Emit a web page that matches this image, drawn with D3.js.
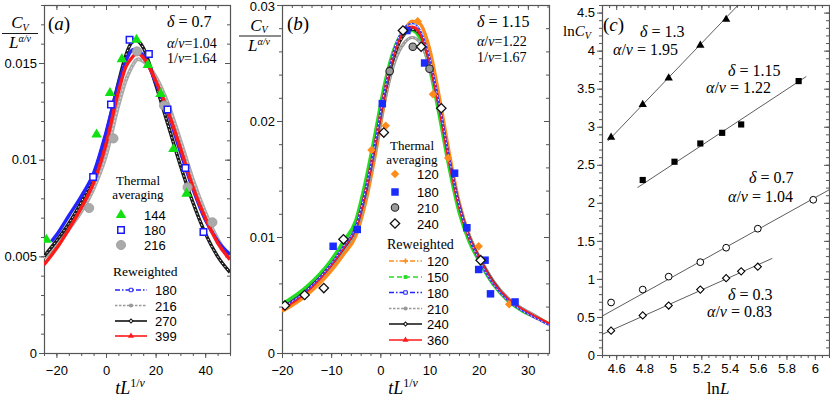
<!DOCTYPE html>
<html>
<head>
<meta charset="utf-8">
<script src="https://cdn.jsdelivr.net/npm/d3@7"></script>
<style>
  body { margin: 0; background: #fff; }
  .tick text { font-family: "Liberation Sans", Arial, sans-serif; font-size: 13px; fill: #000; }
  .tick line { stroke: #555; }
</style>
</head>
<body>
<div id="chart"></div>
<script>
// ---------- panel (a): delta = 0.7 ----------
// thermal averaging points [tL^(1/nu), C_V / L^(alpha/nu)]
const aTherm144 = [[-24, 0.00586], [-3.8, 0.0113], [1.6, 0.01345], [6.4, 0.0152], [12.3, 0.0162],
                   [16.9, 0.0149], [22, 0.0134], [27.2, 0.01055], [32.5, 0.00824]];
const aTherm180 = [[-5.2, 0.0091], [2.0, 0.01285], [9.5, 0.0162], [17.3, 0.01547], [24.8, 0.01259],
                   [32, 0.00957], [39.3, 0.00626]];
const aTherm216 = [[-6.8, 0.0075], [3.0, 0.0111], [12.5, 0.0156], [23.4, 0.0128], [32.9, 0.00857], [42.9, 0.00676]];

// reweighted curves
const aRw180 = [[-22, 0.00577], [-20, 0.0061], [-15, 0.0071], [-10, 0.0081], [-5, 0.0093], [0, 0.0114], [5, 0.0139],
                [8, 0.0151], [10, 0.0156], [11, 0.0157], [15, 0.0154], [20, 0.0140], [25, 0.0124], [30, 0.0104],
                [35, 0.0085], [40, 0.0069], [45, 0.0058], [50, 0.0051]];
const aRw216 = [[-25, 0.0049], [-20, 0.0056], [-15, 0.0064], [-10, 0.0073], [-5, 0.0085], [0, 0.0102], [5, 0.0128],
                [8, 0.0141], [10, 0.0147], [13, 0.0152], [15, 0.0151], [20, 0.0143], [25, 0.0129], [30, 0.0110],
                [35, 0.0090], [40, 0.0073], [45, 0.0059], [50, 0.0049]];
const aRw270 = [[-25, 0.0050], [-20, 0.0058], [-15, 0.0067], [-10, 0.0078], [-5, 0.0092], [0, 0.0113], [5, 0.0140],
                [8, 0.0154], [10, 0.0160], [11.5, 0.0162], [15, 0.0158], [20, 0.0139], [25, 0.0118], [30, 0.0097],
                [35, 0.0078], [40, 0.0062], [45, 0.0050], [50, 0.00417]];
const aRw399 = [[-25, 0.00457], [-20, 0.0054], [-15, 0.0064], [-10, 0.0075], [-5, 0.0088], [0, 0.0108], [5, 0.0135],
                [8, 0.0148], [10, 0.0152], [12.5, 0.0155], [15, 0.0153], [20, 0.0141], [25, 0.0125], [30, 0.0106],
                [35, 0.0086], [40, 0.0070], [45, 0.0057], [50, 0.00483]];

// ---------- panel (b): delta = 1.15 ----------
const bTherm120 = [[-1.8, 0.0175], [1.1, 0.0196], [7.6, 0.0286], [10.7, 0.0223], [13.8, 0.0168], [20, 0.0092], [26.2, 0.0042]];
const bTherm180 = [[-9.6, 0.0092], [-4.7, 0.01065], [0.4, 0.0215], [5.4, 0.0278], [9, 0.025], [15.1, 0.0155],
                   [17.6, 0.0108], [20, 0.0072], [21.3, 0.008], [22.4, 0.0051], [27.4, 0.0044]];
const bTherm210 = [[1.9, 0.0243], [6.6, 0.0264], [10, 0.0245]];
const bTherm240 = [[-19.4, 0.0041], [-15.4, 0.005], [-11.5, 0.0056], [-7.5, 0.0098], [0.7, 0.019], [4.6, 0.0278],
                   [8.3, 0.0264], [12.4, 0.0211], [20.4, 0.008]];

const bGrid = [-20, -15, -10, -7.5, -5, -3, -1, 1, 3, 5, 6.5, 8, 10, 12, 14, 16, 18, 20, 23, 26, 29, 32, 34.3];
const bRw120 = [0.0036, 0.0050, 0.0071, 0.0085, 0.0101, 0.0130, 0.0172, 0.0220, 0.0258, 0.0279, 0.0286, 0.0284,
                0.0262, 0.0220, 0.0172, 0.0130, 0.0102, 0.0083, 0.0061, 0.0046, 0.0037, 0.0030, 0.0025];
const bRw150 = [0.0042, 0.0057, 0.0080, 0.0096, 0.0114, 0.0148, 0.0190, 0.0234, 0.0264, 0.0277, 0.0278, 0.0272,
                0.0246, 0.0205, 0.0160, 0.0122, 0.0097, 0.0080, 0.0059, 0.0045, 0.0036, 0.0030, 0.0025];
const bRw180 = [0.0039, 0.0054, 0.0077, 0.0092, 0.0109, 0.0141, 0.0183, 0.0229, 0.0264, 0.0281, 0.0284, 0.0279,
                0.0255, 0.0214, 0.0168, 0.0128, 0.0100, 0.0081, 0.0059, 0.0045, 0.0036, 0.0029, 0.0024];
const bRw210 = [0.0039, 0.0053, 0.0075, 0.0089, 0.0105, 0.0135, 0.0176, 0.0220, 0.0252, 0.0268, 0.0272, 0.0268,
                0.0248, 0.0211, 0.0167, 0.0129, 0.0102, 0.0084, 0.0062, 0.0047, 0.0038, 0.0031, 0.0025];
const bRw240 = [0.0039, 0.0054, 0.0076, 0.0090, 0.0107, 0.0138, 0.0180, 0.0225, 0.0258, 0.0275, 0.0279, 0.0275,
                0.0251, 0.0212, 0.0167, 0.0128, 0.0101, 0.0083, 0.0061, 0.0046, 0.0037, 0.0030, 0.0025];
const bRw360 = [0.0038, 0.0053, 0.0076, 0.0091, 0.0108, 0.0140, 0.0182, 0.0228, 0.0262, 0.0278, 0.0281, 0.0276,
                0.0252, 0.0212, 0.0166, 0.0127, 0.0100, 0.0082, 0.0060, 0.0046, 0.0037, 0.0030, 0.0025];

// ---------- panel (c): ln C_V vs ln L ----------
const cTri13  = [[4.564, 2.86], [4.787, 3.29], [4.970, 3.64], [5.193, 4.07], [5.375, 4.41]];
const cSq115  = [[4.787, 2.30], [5.011, 2.54], [5.193, 2.78], [5.347, 2.92], [5.481, 3.03], [5.886, 3.60]];
const cCirc07 = [[4.564, 0.69], [4.787, 0.86], [4.970, 1.03], [5.193, 1.22], [5.375, 1.41], [5.598, 1.66], [5.989, 2.04]];
const cDia03  = [[4.564, 0.32], [4.787, 0.52], [4.970, 0.65], [5.193, 0.86], [5.375, 1.01], [5.481, 1.10], [5.598, 1.16]];
const cFit13  = [[4.54, 2.81], [5.46, 4.60]];
const cFit115 = [[4.75, 2.20], [5.94, 3.66]];
const cFit07  = [[4.50, 0.51], [6.10, 2.17]];
const cFit03  = [[4.50, 0.27], [5.70, 1.27]];

// tick labels
const aXTicks = [-20, 0, 20, 40];
const aYTicks = [0, 0.005, 0.01, 0.015];
const bXTicks = [-20, -10, 0, 10, 20, 30];
const bYTicks = [0, 0.01, 0.02, 0.03];
const cXTicks = [4.6, 4.8, 5, 5.2, 5.4, 5.6, 5.8, 6];
const cYTicks = [0, 0.5, 1, 1.5, 2, 2.5, 3, 3.5, 4, 4.5];

const svg = d3.select("#chart").append("svg")
    .attr("width", 830).attr("height", 398);

const serif = '"Liberation Serif", "DejaVu Serif", serif';
const sans = '"Liberation Sans", Arial, sans-serif';

// draws the boxed frame with ticks on all four sides
function makePanel(id, box, xDom, yDom, o) {
    const x = d3.scaleLinear().domain(xDom).range([box.left, box.right]);
    const y = d3.scaleLinear().domain(yDom).range([box.bottom, box.top]);
    const g = svg.append("g");

    g.append("clipPath").attr("id", id).append("rect")
        .attr("x", box.left).attr("y", box.top)
        .attr("width", box.right - box.left).attr("height", box.bottom - box.top);

    const minorX = d3.range(xDom[0], xDom[1] + 1e-9, o.xMinor).map(v => +v.toFixed(4));
    const minorY = d3.range(yDom[0], yDom[1] + 1e-9, o.yMinor).map(v => +v.toFixed(5));

    const axes = [
        [d3.axisBottom(x).tickValues(minorX).tickSize(3).tickFormat(""), `translate(0,${box.bottom})`],
        [d3.axisBottom(x).tickValues(o.xTicks).tickSize(5).tickPadding(o.xPad).tickFormat(o.xFmt), `translate(0,${box.bottom})`],
        [d3.axisBottom(x).tickValues(minorX).tickSize(3).tickFormat(""), `translate(0,${box.top})`],
        [d3.axisBottom(x).tickValues(o.xTicks).tickSize(5).tickFormat(""), `translate(0,${box.top})`],
        [d3.axisLeft(y).tickValues(minorY).tickSize(3).tickFormat(""), `translate(${box.left},0)`],
        [d3.axisLeft(y).tickValues(o.yTicks).tickSize(5).tickPadding(2).tickFormat(o.yFmt), `translate(${box.left},0)`, "yLabels"],
        [d3.axisLeft(y).tickValues(minorY).tickSize(3).tickFormat(""), `translate(${box.right},0)`],
        [d3.axisLeft(y).tickValues(o.yTicks).tickSize(5).tickFormat(""), `translate(${box.right},0)`]
    ];
    axes.forEach(([ax, tr, cls]) => {
        const a = g.append("g").attr("transform", tr).call(ax);
        a.select(".domain").remove();
        if (cls) a.attr("class", cls);
    });

    // keep the top label of the y axis inside the picture
    g.select(".yLabels").selectAll(".tick text").filter(d => d === yDom[1]).attr("dy", "0.4em");

    g.append("rect")
        .attr("x", box.left + 0.5).attr("y", box.top + 0.5)
        .attr("width", box.right - box.left).attr("height", box.bottom - box.top)
        .attr("fill", "none").attr("stroke", "#555").attr("stroke-width", 1.2);

    const plot = g.append("g").attr("clip-path", `url(#${id})`);
    return { g, plot, x, y };
}

function drawCurve(p, data, color, width, bead) {
    const line = d3.line().x(d => p.x(d[0])).y(d => p.y(d[1])).curve(d3.curveMonotoneX);
    p.plot.append("path").attr("d", line(data))
        .attr("fill", "none").attr("stroke", color).attr("stroke-width", width);
    if (bead) {
        p.plot.append("path").attr("d", line(data))
            .attr("fill", "none").attr("stroke", bead).attr("stroke-width", 1)
            .attr("stroke-dasharray", "1.5,2.5");
    }
}

function sym(type, size) {
    return d3.symbol().type(type).size(size)();
}

function drawMarkers(p, data, m) {
    p.plot.selectAll(null).data(data).enter().append("path")
        .attr("d", sym(m.type, m.size))
        .attr("transform", d => `translate(${p.x(d[0])},${p.y(d[1])})` + (m.rot ? " rotate(45)" : ""))
        .attr("fill", m.fill).attr("stroke", m.stroke || "none").attr("stroke-width", m.sw || 0);
}

function addText(parent, x, y, parts, size, anchor) {
    const t = parent.append("text").attr("x", x).attr("y", y)
        .attr("font-family", serif).attr("font-size", size)
        .attr("text-anchor", anchor || "start");
    parts.forEach(pt => {
        const s = t.append("tspan").text(pt.t);
        if (pt.i) s.attr("font-style", "italic");
        if (pt.fs) s.attr("font-size", pt.fs);
        if (pt.dy) s.attr("dy", pt.dy);
    });
    return t;
}

// y label: C_V / L^(alpha/nu)
function fracLabel(cx, x0, x1, off) {
    addText(svg, cx, 28 + off, [{ t: "C", i: 1 }, { t: "V", i: 1, fs: 10, dy: 2.5 }], 17, "middle");
    svg.append("line").attr("x1", x0).attr("x2", x1).attr("y1", 33.5 + off).attr("y2", 33.5 + off)
        .attr("stroke", "#000").attr("stroke-width", 0.9);
    addText(svg, cx, 48 + off, [{ t: "L", i: 1 }, { t: "α/ν", i: 1, fs: 10, dy: -6 }], 17, "middle");
}

function xTitle(cx) {
    addText(svg, cx, 394, [{ t: "tL", i: 1 }, { t: "1/", fs: 12, dy: -7 }, { t: "ν", i: 1, fs: 12 }], 18, "middle");
}

function thermLegend(cx, y0, y1) {
    addText(svg, cx, y0, [{ t: "Thermal" }], 13, "middle");
    addText(svg, cx, y1, [{ t: "averaging" }], 13, "middle");
}
function legendMarker(x, y, m, label, lx) {
    svg.append("path").attr("d", sym(m.type, m.size))
        .attr("transform", `translate(${x},${y})` + (m.rot ? " rotate(45)" : ""))
        .attr("fill", m.fill).attr("stroke", m.stroke || "none").attr("stroke-width", m.sw || 0);
    svg.append("text").attr("x", lx).attr("y", y + 5).attr("font-family", sans)
        .attr("font-size", 13).text(label);
}
function legendLine(x0, x1, y, st, label, lx) {
    svg.append("line").attr("x1", x0).attr("x2", x1).attr("y1", y).attr("y2", y)
        .attr("stroke", st.color).attr("stroke-width", 1.6)
        .attr("stroke-dasharray", st.dash || null);
    const m = st.marker;
    svg.append("path").attr("d", sym(m.type, m.size))
        .attr("transform", `translate(${(x0 + x1) / 2},${y})` + (m.rot ? " rotate(45)" : ""))
        .attr("fill", m.fill).attr("stroke", m.stroke || "none").attr("stroke-width", m.sw || 0);
    svg.append("text").attr("x", lx).attr("y", y + 5).attr("font-family", sans)
        .attr("font-size", 13).text(label);
}

// line styles for the "Reweighted" legends
const stBlue = { color: "#2323ff", dash: "5,2,1.5,2", marker: { type: d3.symbolSquare, size: 12, fill: "#fff", stroke: "#2323ff", sw: 1 } };
const stGray = { color: "#999", dash: "2.5,1.5", marker: { type: d3.symbolCircle, size: 14, fill: "#999" } };
const stBlack = { color: "#111", marker: { type: d3.symbolSquare, size: 8, fill: "#fff", stroke: "#111", sw: 1, rot: 1 } };
const stRed = { color: "#ff1a1a", marker: { type: d3.symbolTriangle, size: 16, fill: "#ff1a1a" } };
const stOrange = { color: "#ff8c1a", dash: "5,2,1.5,2", marker: { type: d3.symbolCross, size: 14, fill: "#ff8c1a" } };
const stGreen = { color: "#22dd22", dash: "5,3", marker: { type: d3.symbolSquare, size: 14, fill: "#22dd22" } };

// ================= panel (a) =================
const pa = makePanel("clipA", { left: 44, right: 230, top: 5, bottom: 353 }, [-25, 50], [0, 0.018], {
    xTicks: aXTicks, yTicks: aYTicks, xMinor: 5, yMinor: 0.001, xPad: 8,
    xFmt: d3.format("d"), yFmt: d => d === 0 ? "0" : d3.format("~g")(d)
});
drawCurve(pa, aRw216, "#a9a9a9", 3.8, "#e6e6e6");
drawCurve(pa, aRw270, "#1a1a1a", 3.4, "#ffffff");
drawCurve(pa, aRw180, "#2323ff", 3.4);
drawCurve(pa, aRw399, "#ff1a1a", 3.4);

const mTri = { type: d3.symbolTriangle, size: 48, fill: "#11e011" };
const mSqO = { type: d3.symbolSquare, size: 42, fill: "#fff", stroke: "#1a1aff", sw: 1.5 };
const mCirG = { type: d3.symbolCircle, size: 66, fill: "#aaaaaa", stroke: "#999", sw: 0.8 };
drawMarkers(pa, aTherm216, mCirG);
drawMarkers(pa, aTherm180, mSqO);
drawMarkers(pa, aTherm144, mTri);

fracLabel(20, 2, 38, 0);
xTitle(130);
addText(svg, 48, 30, [{ t: "(" }, { t: "a", i: 1 }, { t: ")" }], 19);
addText(svg, 167, 27, [{ t: "δ", i: 1 }, { t: " = 0.7" }], 16);
addText(svg, 167, 48, [{ t: "α", i: 1 }, { t: "/" }, { t: "ν", i: 1 }, { t: "=1.04" }], 14);
addText(svg, 167, 63, [{ t: "1/" }, { t: "ν", i: 1 }, { t: "=1.64" }], 14);

thermLegend(138, 185, 199);
legendMarker(121, 215, mTri, "144", 144);
legendMarker(121, 230, mSqO, "180", 144);
legendMarker(121, 245, mCirG, "216", 144);
addText(svg, 113, 276, [{ t: "Reweighted" }], 13.5);
legendLine(115, 147, 290, stBlue, "180", 155);
legendLine(115, 147, 305.5, stGray, "216", 155);
legendLine(115, 147, 321, stBlack, "270", 155);
legendLine(115, 147, 336, stRed, "399", 155);

// ================= panel (b) =================
const pb = makePanel("clipB", { left: 282, right: 549, top: 5, bottom: 353 }, [-20, 34.3], [0, 0.03], {
    xTicks: bXTicks, yTicks: bYTicks, xMinor: 2, yMinor: 0.002, xPad: 8,
    xFmt: d3.format("d"), yFmt: d => d === 0 ? "0" : d3.format("~g")(d)
});
const zipB = vals => bGrid.map((g, i) => [g, vals[i]]);
drawCurve(pb, zipB(bRw150), "#22dd22", 3.6);
drawCurve(pb, zipB(bRw120), "#ff8c1a", 3.6);
drawCurve(pb, zipB(bRw210), "#9a9a9a", 3.2, "#e6e6e6");
drawCurve(pb, zipB(bRw240), "#222", 2.6, "#ffffff");
drawCurve(pb, zipB(bRw360), "#ff1a1a", 3.0);
drawCurve(pb, zipB(bRw180), "#2b3bff", 1.6, "#ffffff");

const mDiaO = { type: d3.symbolSquare, size: 36, fill: "#ff8c1a", rot: 1 };
const mSqB = { type: d3.symbolSquare, size: 56, fill: "#1a2bff" };
const mCirD = { type: d3.symbolCircle, size: 44, fill: "#9a9a9a", stroke: "#222", sw: 1.1 };
const mDiaW = { type: d3.symbolSquare, size: 44, fill: "#fff", stroke: "#111", sw: 1.3, rot: 1 };
drawMarkers(pb, bTherm120, mDiaO);
drawMarkers(pb, bTherm180, mSqB);
drawMarkers(pb, bTherm210, mCirD);
drawMarkers(pb, bTherm240, mDiaW);

fracLabel(259, 239, 281, 2.5);
xTitle(403);
addText(svg, 287, 30, [{ t: "(" }, { t: "b", i: 1 }, { t: ")" }], 19);
addText(svg, 477, 27, [{ t: "δ", i: 1 }, { t: " = 1.15" }], 16);
addText(svg, 477, 46, [{ t: "α", i: 1 }, { t: "/" }, { t: "ν", i: 1 }, { t: "=1.22" }], 14);
addText(svg, 477, 62, [{ t: "1/" }, { t: "ν", i: 1 }, { t: "=1.67" }], 14);

thermLegend(412, 150, 164);
legendMarker(395, 174, mDiaO, "120", 417);
legendMarker(395, 192, mSqB, "180", 417);
legendMarker(395, 207.5, mCirD, "210", 417);
legendMarker(395, 223.5, mDiaW, "240", 417);
addText(svg, 387, 249, [{ t: "Reweighted" }], 14);
legendLine(389, 422, 261, stOrange, "120", 427);
legendLine(389, 422, 277, stGreen, "150", 427);
legendLine(389, 422, 292.5, stBlue, "180", 427);
legendLine(389, 422, 308.5, stGray, "210", 427);
legendLine(389, 422, 324, stBlack, "240", 427);
legendLine(389, 422, 340, stRed, "360", 427);

// ================= panel (c) =================
const pc = makePanel("clipC", { left: 602, right: 829, top: 5, bottom: 355 }, [4.5, 6.1], [0, 4.6], {
    xTicks: cXTicks, yTicks: cYTicks, xMinor: 0.05, yMinor: 0.1, xPad: 3.5,
    xFmt: d3.format("~g"), yFmt: d3.format("~g")
});
[cFit13, cFit115, cFit07, cFit03].forEach(f => {
    pc.plot.append("path")
        .attr("d", d3.line().x(d => pc.x(d[0])).y(d => pc.y(d[1]))(f))
        .attr("fill", "none").attr("stroke", "#333").attr("stroke-width", 0.8);
});
drawMarkers(pc, cTri13, { type: d3.symbolTriangle, size: 30, fill: "#000" });
drawMarkers(pc, cSq115, { type: d3.symbolSquare, size: 38, fill: "#000" });
drawMarkers(pc, cCirc07, { type: d3.symbolCircle, size: 36, fill: "#fff", stroke: "#000", sw: 1 });
drawMarkers(pc, cDia03, { type: d3.symbolSquare, size: 26, fill: "#fff", stroke: "#000", sw: 1.1, rot: 1 });

addText(svg, 603, 31, [{ t: "(" }, { t: "c", i: 1 }, { t: ")" }], 19);
addText(svg, 577, 36, [{ t: "ln" }, { t: "C", i: 1 }, { t: "V", i: 1, fs: 10, dy: 3 }], 15, "middle");
addText(svg, 640, 37, [{ t: "δ", i: 1 }, { t: " = 1.3" }], 16);
addText(svg, 613, 55, [{ t: "α", i: 1 }, { t: "/" }, { t: "ν", i: 1 }, { t: " = 1.95" }], 16);
addText(svg, 728, 76, [{ t: "δ", i: 1 }, { t: " = 1.15" }], 16);
addText(svg, 706, 93, [{ t: "α", i: 1 }, { t: "/" }, { t: "ν", i: 1 }, { t: " = 1.22" }], 16);
addText(svg, 749, 183, [{ t: "δ", i: 1 }, { t: " = 0.7" }], 16);
addText(svg, 728, 202, [{ t: "α", i: 1 }, { t: "/" }, { t: "ν", i: 1 }, { t: " = 1.04" }], 16);
addText(svg, 728, 300, [{ t: "δ", i: 1 }, { t: " = 0.3" }], 16);
addText(svg, 707, 317, [{ t: "α", i: 1 }, { t: "/" }, { t: "ν", i: 1 }, { t: " = 0.83" }], 16);
addText(svg, 718, 394, [{ t: "ln" }, { t: "L", i: 1 }], 17, "middle");
</script>
</body>
</html>
